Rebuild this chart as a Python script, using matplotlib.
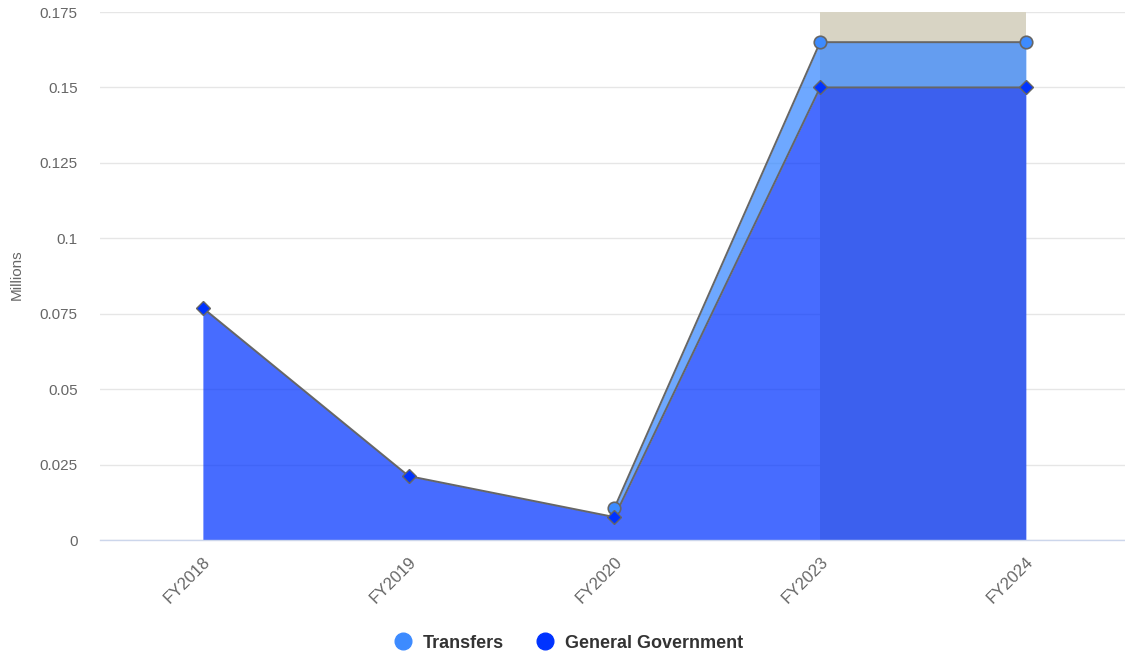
import matplotlib.pyplot as plt
import numpy as np
from matplotlib.lines import Line2D

plt.rcParams["font.family"] = ["Liberation Sans", "DejaVu Sans"]

categories = ["FY2018", "FY2019", "FY2020", "FY2023", "FY2024"]
general_government = [0.0769, 0.0212, 0.0076, 0.150, 0.150]
transfers = [np.nan, np.nan, 0.0030, 0.015, 0.015]
y_ticks = [0, 0.025, 0.05, 0.075, 0.1, 0.125, 0.15, 0.175]
y_tick_labels = ["0", "0.025", "0.05", "0.075", "0.1", "0.125", "0.15", "0.175"]

GG_COLOR = "#0033ff"
TR_COLOR = "#3d8bff"
LINE_COLOR = "#666666"
BAND_COLOR = "#d8d4c4"

W, H = 1125, 655
fig = plt.figure(figsize=(W / 100, H / 100), dpi=100)
ax = fig.add_axes([100 / W, 115 / H, 1025 / W, 528 / H])

x = np.arange(len(categories))
gg = np.array(general_government)
tr = np.array(transfers)
tr_mask = ~np.isnan(tr)
total = gg + np.nan_to_num(tr)

# highlighted period band
ax.axvspan(3, 4, color=BAND_COLOR, zorder=1, lw=0)

ax.fill_between(x, 0, gg, color=GG_COLOR, alpha=0.72, lw=0, zorder=2)
ax.fill_between(x[tr_mask], gg[tr_mask], total[tr_mask], color=TR_COLOR,
                alpha=0.75, lw=0, zorder=2)

ax.plot(x, gg, color=LINE_COLOR, lw=1.4, zorder=3)
ax.plot(x[tr_mask], total[tr_mask], color=LINE_COLOR, lw=1.4, zorder=3)
ax.plot(x[tr_mask], total[tr_mask], ls="none", marker="o", ms=9,
        mfc=TR_COLOR, mec=LINE_COLOR, mew=1.2, zorder=4)
ax.plot(x, gg, ls="none", marker="D", ms=7, mfc=GG_COLOR, mec=LINE_COLOR,
        mew=1.0, zorder=5)

ax.set_xlim(-0.5, -0.5 + 1025 / 205.75)
ax.set_ylim(0, 0.175)
ax.set_yticks(y_ticks)
ax.set_yticklabels(y_tick_labels)
ax.set_xticks(x)
ax.set_xticklabels(categories, rotation=45, ha="right", va="top",
                   rotation_mode="anchor")

ax.grid(axis="y", color="#e6e6e6", lw=1, zorder=0)
ax.set_axisbelow(True)
for side in ["top", "right", "left"]:
    ax.spines[side].set_visible(False)
ax.spines["bottom"].set_color("#ccd6eb")
ax.spines["bottom"].set_linewidth(1)
ax.spines["bottom"].set_zorder(6)
ax.tick_params(axis="y", length=0, pad=16, labelsize=11, labelcolor="#666666")
ax.tick_params(axis="x", length=0, pad=10, labelsize=12, labelcolor="#666666")

fig.text(17 / W, 1 - 275 / H, "Millions", rotation=90, ha="center",
         va="center", fontsize=11, color="#666666")

handles = [
    Line2D([], [], ls="none", marker="o", ms=12, mfc=TR_COLOR, mec=TR_COLOR,
           label="Transfers"),
    Line2D([], [], ls="none", marker="o", ms=12, mfc=GG_COLOR, mec=GG_COLOR,
           label="General Government"),
]
leg = fig.legend(handles=handles, loc="center", bbox_to_anchor=(564 / W, 1 - 643 / H),
                 ncol=2, frameon=False, handletextpad=0.1, columnspacing=1.3,
                 prop={"weight": "bold", "size": 13})
for t in leg.get_texts():
    t.set_color("#333333")

fig.savefig("out.png", dpi=100)
